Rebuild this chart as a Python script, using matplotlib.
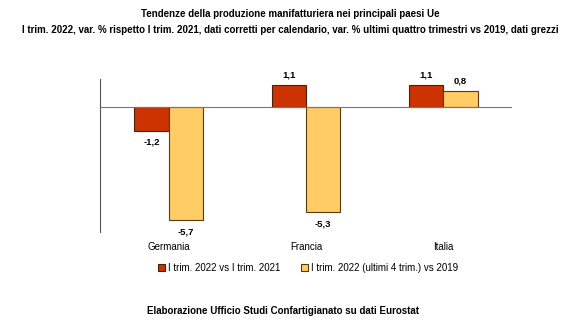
import matplotlib.pyplot as plt
import numpy as np

plt.rcParams['font.family'] = ['Liberation Sans', 'DejaVu Sans']

paesi = ['Germania', 'Francia', 'Italia']
var_trim = [-1.2, 1.1, 1.1]
var_2019 = [-5.7, -5.3, 0.8]
serie = ['I trim. 2022 vs I trim. 2021', 'I trim. 2022 (ultimi 4 trim.) vs 2019']

fig = plt.figure(figsize=(5.8, 3.26), dpi=100)
ax = fig.add_axes([0.1724, 0.2883, 0.7104, 0.4694])

x = np.arange(len(paesi))
w = 0.25
b1 = ax.bar(x - w / 2, var_trim, w, color='#CC3300', edgecolor='#4a2008', linewidth=0.8, label=serie[0])
b2 = ax.bar(x + w / 2, var_2019, w, color='#FFCC66', edgecolor='#5a3a10', linewidth=0.8, label=serie[1])

for bars, vals in [(b1, var_trim), (b2, var_2019)]:
    for r, v in zip(bars, vals):
        cx = r.get_x() + r.get_width() / 2
        txt = f'{v:.1f}'.replace('.', ',')
        if v >= 0:
            ax.annotate(txt, (cx, v), xytext=(0, 4), textcoords='offset points',
                        ha='center', va='bottom', fontsize=6.8, fontweight='bold')
        else:
            ax.annotate(txt, (cx, v), xytext=(0, -5), textcoords='offset points',
                        ha='center', va='top', fontsize=6.8, fontweight='bold')

ax.set_xlim(-0.5, 2.5)
ax.set_ylim(-6.3, 1.4)
ax.axhline(0, color='#777777', linewidth=0.8)
for s in ['top', 'right', 'bottom']:
    ax.spines[s].set_visible(False)
ax.spines['left'].set_color('#555555')
ax.spines['left'].set_linewidth(0.8)
ax.set_yticks([])
ax.set_xticks([])
for xi, p in zip(x, paesi):
    fig.text(0.1724 + (xi + 0.5) / 3 * 0.7104, 1 - 247 / 326, p, ha='center', va='center', fontsize=7)

ax.legend(loc='center', bbox_to_anchor=(308 / 580, 1 - 268 / 326), bbox_transform=fig.transFigure,
          ncol=2, frameon=False, fontsize=7, handlelength=0.7, handleheight=0.7,
          handletextpad=0.3, columnspacing=2.2)

fig.text(0.5, 1 - 14 / 326, 'Tendenze della produzione manifatturiera nei principali paesi Ue',
         ha='center', va='center', fontsize=7, fontweight='bold')
fig.text(0.5, 1 - 30 / 326, 'I trim. 2022, var. % rispetto I trim. 2021, dati corretti per calendario, '
         'var. % ultimi quattro trimestri vs 2019, dati grezzi',
         ha='center', va='center', fontsize=7, fontweight='bold')
fig.text(283 / 580, 1 - 311 / 326, 'Elaborazione Ufficio Studi Confartigianato su dati Eurostat',
         ha='center', va='center', fontsize=7, fontweight='bold')

fig.savefig('out.png', dpi=100)
